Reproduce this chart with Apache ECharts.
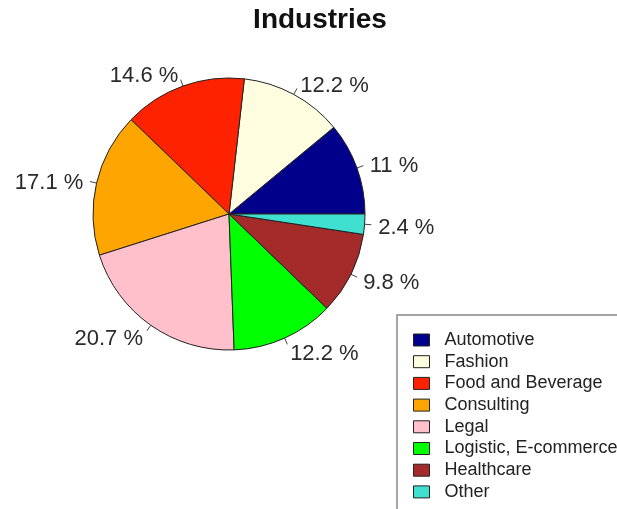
<!DOCTYPE html>
<html><head><meta charset="utf-8">
<script src="https://cdn.jsdelivr.net/npm/echarts@6/dist/echarts.min.js"></script>
<style>html,body{margin:0;padding:0;background:#fff}#c{width:617px;height:509px}</style>
</head><body><div id="c"></div>
<script>
const categories = ["Automotive","Fashion","Food and Beverage","Consulting","Legal","Logistic, E-commerce","Healthcare","Other"];
const shares = [11, 12.2, 14.6, 17.1, 20.7, 12.2, 9.8, 2.4];
const colors = ["#00008B","#FFFDE0","#FF2200","#FFA500","#FFC0CB","#00FF00","#A52A2A","#40E0D0"];
const titleText = "Industries";

const FONT = "Liberation Sans, Arial, sans-serif";
const R = 136;
const center = [229, 214];
const data = categories.map((n, i) => ({ name: n, value: shares[i], itemStyle: { color: colors[i] } }));

const chart = echarts.init(document.getElementById('c'), null, { renderer: 'canvas' });
chart.setOption({
  animation: false,
  backgroundColor: '#fff',
  title: { text: titleText, left: 320, textAlign: 'center', top: 6, padding: 0,
    textStyle: { fontFamily: FONT, fontSize: 28, fontWeight: 'bold', color: '#111' } },
  legend: {
    data: categories, orient: 'vertical', left: 397, top: 315, height: 400,
    padding: [16, 300, 12, 16], borderColor: '#888', borderWidth: 1.5,
    itemWidth: 16, itemHeight: 12, itemGap: 3.7, icon: 'rect',
    itemStyle: { borderColor: '#222', borderWidth: 1 },
    textStyle: { fontFamily: FONT, fontSize: 18, color: '#222', lineHeight: 18, padding: [0,0,0,10] },
    selectedMode: false
  },
  series: [
    { type: 'pie', center: center, radius: [0, R], startAngle: 0, clockwise: false,
      avoidLabelOverlap: false,
      itemStyle: { borderColor: '#222', borderWidth: 1 },
      label: { show: true, position: 'outside', color: '#2a2a2a', formatter: '{c} %', fontSize: 22, fontFamily: FONT },
      labelLine: { show: true, length: R * 0.05, length2: 0, smooth: false, lineStyle: { color: '#444', width: 1 } },
      labelLayout: function (p) {
        const pts = p.labelLinePoints;
        if (!pts) return {};
        const a = pts[0], b = pts[1];
        const x = a[0] + 2 * (b[0] - a[0]);
        const y = a[1] + 2 * (b[1] - a[1]) + 3;
        return { x: x, y: y, align: (b[0] >= a[0]) ? 'left' : 'right', verticalAlign: 'middle',
                 labelLinePoints: [a, b, b] };
      },
      data: data }
  ]
});
</script></body></html>
